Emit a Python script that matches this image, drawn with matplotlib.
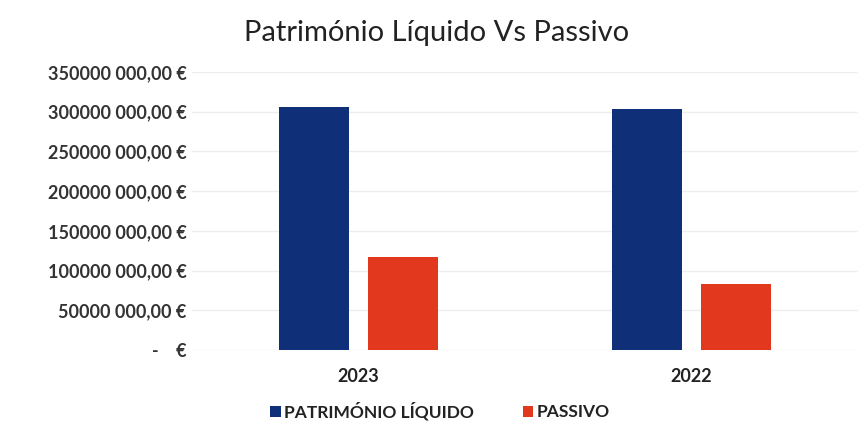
import matplotlib
matplotlib.use("Agg")
import matplotlib.pyplot as plt
import numpy as np

plt.rcParams['font.family'] = ['Lato', 'DejaVu Sans']

categories = ["2023", "2022"]
series_names = ["PATRIMÓNIO LÍQUIDO", "PASSIVO"]
patrimonio = [306e6, 304e6]
passivo = [117e6, 83e6]
yticks = [0, 50e6, 100e6, 150e6, 200e6, 250e6, 300e6, 350e6]
ytick_labels = ["-    €", "50000 000,00 €", "100000 000,00 €", "150000 000,00 €",
                "200000 000,00 €", "250000 000,00 €", "300000 000,00 €", "350000 000,00 €"]

colors = ["#0f2f78", "#e2391e"]

fig = plt.figure(figsize=(8.68, 4.38), dpi=100)
ax = fig.add_axes([192/868, 1-350/438, 666/868, 278/438])

x = np.arange(len(categories))
w = 0.21
gap = 0.06
ax.bar(x - (w+gap)/2, patrimonio, width=w, color=colors[0], label=series_names[0], zorder=3)
ax.bar(x + (w+gap)/2, passivo, width=w, color=colors[1], label=series_names[1], zorder=3)

ax.set_xlim(-0.5, 1.5)
ax.set_ylim(0, 350e6)
ax.set_yticks(yticks)
ax.set_yticklabels(ytick_labels, fontsize=13, fontweight='bold', color='#333333')
ax.set_xticks(x)
ax.set_xticklabels(categories, fontsize=13, fontweight='bold', color='#222222')
ax.tick_params(axis='both', length=0)
ax.tick_params(axis='y', pad=4)
ax.tick_params(axis='x', pad=13)
for s in ax.spines.values():
    s.set_visible(False)
ax.grid(axis='y', color='#eeeeee', linewidth=1, zorder=0)
ax.set_axisbelow(True)

fig.suptitle("Património Líquido Vs Passivo", x=437/868, y=1-33/438, va='center',
             fontsize=21, color='#222222')

leg = fig.legend(loc='center', bbox_to_anchor=(440/868, 1-411/438), ncol=2, frameon=False,
                 fontsize=12.5, handlelength=0.6, handleheight=0.6, handletextpad=0.2,
                 columnspacing=2.8)
for t in leg.get_texts():
    t.set_fontweight('bold')
    t.set_color('#222222')

fig.savefig("out.png", dpi=100, facecolor='white')
